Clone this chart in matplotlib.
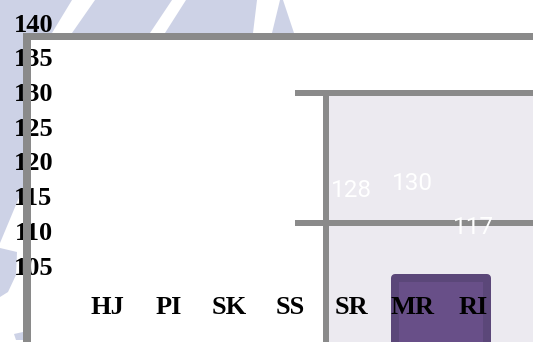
import matplotlib
matplotlib.use("Agg")
import matplotlib.pyplot as plt
from matplotlib.transforms import Affine2D, blended_transform_factory
from matplotlib.patches import Polygon, Rectangle

# ---- data ----
categories = ["HJ", "PI", "SK", "SS", "SR", "MR", "RI"]
y_ticks = [140, 135, 130, 125, 120, 115, 110, 105]
label_categories = ["SR", "MR", "RI"]
label_values = [128, 130, 117]
bar_categories = ["MR", "RI"]
bar_value = 103.3

# ---- figure ----
W, H = 533, 342
fig = plt.figure(figsize=(W / 100, H / 100), dpi=100)
fig.patch.set_facecolor("white")
ax = fig.add_axes([0, 0, 1, 1])
ax.set_axis_off()

x0, dx = 107.5, 61.0
ax.set_xlim(-x0 / dx, (W - x0) / dx)
y_top_px, y_top_val, ppu = 22.5, 140, 6.95
ax.set_ylim(y_top_val - (H - y_top_px) / ppu, y_top_val + y_top_px / ppu)

# pixel-coordinate transform (origin top-left) for decoration
px = Affine2D().scale(1 / W, -1 / H).translate(0, 1) + ax.transAxes

wm = "#CDD2E6"
grey = "#8A8A8A"
panel = "#ECEAF0"

# watermark shapes (decoration)
shapes = [
    [(0, 0), (72, 0), (52, 33), (0, 33)],
    [(95, 0), (172, 0), (150, 33), (72, 33)],
    [(186, 0), (257, 0), (253, 33), (165, 33)],
    [(280, 0), (283, 0), (294, 33), (272, 33)],
    [(0, 33), (23, 33), (23, 188), (0, 243)],
    [(0, 248), (17, 252), (16, 275), (8, 292), (0, 297)],
    [(14, 334), (23, 332), (23, 340), (16, 340)],
]
for s in shapes:
    ax.add_patch(Polygon(s, closed=True, facecolor=wm, edgecolor="none",
                         transform=px, zorder=0.1))

# inner panel fill
ax.add_patch(Rectangle((329, 95), W - 329, H - 95, facecolor=panel,
                       edgecolor="none", transform=px, zorder=0.2))

# frame lines
for (x, y, w, h) in [(23, 33, W - 23, 7), (23, 33, 8, H - 33),
                     (295, 89.5, W - 295, 6), (295, 219.5, W - 295, 6),
                     (322.5, 89.5, 6.5, H - 89.5)]:
    ax.add_patch(Rectangle((x, y), w, h, facecolor=grey, edgecolor="none",
                           transform=px, zorder=3))

# bar
idx = [categories.index(c) for c in bar_categories]
bx = sum(idx) / len(idx) - 0.04
base = 80
ax.bar(bx, bar_value - base, bottom=base, width=92 / dx,
       facecolor="#684F88", edgecolor="#5B4779", linewidth=5.76,
       joinstyle="round", zorder=1)

serif = dict(family="Liberation Serif", weight="bold", size=19, color="black")

# y labels
ty = blended_transform_factory(ax.transAxes, ax.transData)
for v in y_ticks:
    ax.text(33.5 / W, v, str(v), transform=ty, ha="center",
            va="center_baseline", zorder=2, **serif)

# x labels
tx = blended_transform_factory(ax.transData, ax.transAxes)
for i, c in enumerate(categories):
    ax.text(i, 1 - 305.5 / H, c, transform=tx, ha="center",
            va="center_baseline", zorder=4, **serif)

# value labels on secondary scale
ax2 = ax.twinx()
ax2.set_axis_off()
ax2.set_xlim(ax.get_xlim())
ax2.set_ylim((622.7 - H) / 3.4, 622.7 / 3.4)
for c, v in zip(label_categories, label_values):
    ax2.text(categories.index(c), v, str(v), ha="center", va="center_baseline",
             color="white", family="Roboto", size=17.5, zorder=5)

fig.savefig("out.png", dpi=100, facecolor="white")
